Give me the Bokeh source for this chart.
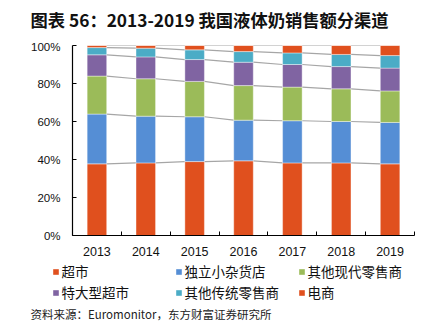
from bokeh.plotting import figure
from bokeh.layouts import column, row
from bokeh.models import (ColumnDataSource, Range1d, FixedTicker, PrintfTickFormatter,
                          Legend, LegendItem, Spacer)
from bokeh.core.properties import value
from bokeh.embed import file_html
from bokeh.resources import INLINE

# ---------------- data ----------------
years = ["2013", "2014", "2015", "2016", "2017", "2018", "2019"]
supermarket = [37.7, 38.2, 38.9, 39.3, 38.2, 38.2, 37.7]      # 超市
independent = [26.2, 24.6, 23.6, 21.4, 22.2, 21.8, 21.8]      # 独立小杂货店
other_modern = [20.0, 19.7, 18.6, 18.2, 17.7, 17.2, 16.6]     # 其他现代零售商
hypermarket = [11.2, 11.5, 11.5, 12.3, 11.9, 11.7, 12.0]      # 特大型超市
other_trad = [3.8, 4.6, 5.1, 5.6, 6.1, 6.4, 6.6]              # 其他传统零售商
ecommerce = [1.1, 1.4, 2.3, 3.2, 3.9, 4.7, 5.3]               # 电商
series_names = ["超市", "独立小杂货店", "其他现代零售商", "特大型超市", "其他传统零售商", "电商"]
y_ticks = [0, 20, 40, 60, 80, 100]
title_text = "图表 56：2013-2019 我国液体奶销售额分渠道"
source_text = "资料来源：Euromonitor，东方财富证券研究所"

colors = ["#E0501E", "#558ED5", "#9BBB59", "#8064A2", "#4BACC6", "#E0501E"]
keys = ["s0", "s1", "s2", "s3", "s4", "s5"]
series = [supermarket, independent, other_modern, hypermarket, other_trad, ecommerce]

W = 432
HEAD_H = 39
RULE_H = 1
CHART_H = 222
LEG_H = 42
SRC_H = 333 - HEAD_H - RULE_H - CHART_H - LEG_H - RULE_H


def bare(width, height, fill="white"):
    f = figure(width=width, height=height, output_backend="svg", toolbar_location=None,
               x_range=Range1d(0, width), y_range=Range1d(0, height),
               x_axis_type=None, y_axis_type=None, min_border=0, title=None,
               frame_align=False)
    f.outline_line_color = None
    f.background_fill_color = fill
    f.border_fill_color = fill
    f.xgrid.visible = False
    f.ygrid.visible = False
    return f


def rule(color):
    """A thin full-colour strip from x=20 to x=419."""
    return row(Spacer(width=20, height=RULE_H), bare(399, RULE_H, color),
               Spacer(width=13, height=RULE_H), spacing=0)


# ---------------- header ----------------
head = bare(W, HEAD_H)
head.text(x=[30], y=[HEAD_H - 18.5], text=[title_text], text_font=value("Noto Sans CJK SC"),
          text_font_style="bold", text_font_size="17.3px", text_baseline="middle",
          text_color="#111111")

# ---------------- chart ----------------
xpos = [i + 0.5 for i in range(len(years))]
data = {"x": xpos}
for k, s in zip(keys, series):
    data[k] = s
source = ColumnDataSource(data)

p = figure(width=W, height=CHART_H, output_backend="svg", toolbar_location=None,
           x_range=Range1d(0, len(years)), y_range=Range1d(0, 100),
           min_border_left=72, min_border_right=18, min_border_top=5,
           min_border_bottom=27, title=None, frame_align=False)
p.outline_line_color = None
p.xgrid.visible = False
p.ygrid.visible = False

BW = 0.4
cum = [0.0] * len(years)
for s in series:
    cum = [c + v for c, v in zip(cum, s)]
    p.segment(x0=[x + BW / 2 for x in xpos[:-1]], y0=cum[:-1],
              x1=[x - BW / 2 for x in xpos[1:]], y1=cum[1:],
              line_color="#A6A6A6", line_width=1.2)

p.vbar_stack(keys, x="x", width=BW, source=source, fill_color=colors,
             line_color="white", line_alpha=0.5, line_width=0.8)

xa = p.xaxis[0]
xa.ticker = FixedTicker(ticks=xpos, minor_ticks=list(range(len(years) + 1)))
xa.major_label_overrides = {x: y for x, y in zip(xpos, years)}
xa.major_tick_in = 0
xa.major_tick_out = 0
xa.minor_tick_in = 4
xa.minor_tick_out = 0
xa.minor_tick_line_color = "black"
xa.axis_line_color = "black"
xa.axis_line_width = 1.2
xa.major_label_standoff = 11
xa.major_label_text_font = "Liberation Sans"
xa.major_label_text_font_size = "12.5px"
xa.major_label_text_color = "#111111"

ya = p.yaxis[0]
ya.ticker = FixedTicker(ticks=y_ticks, minor_ticks=[])
ya.formatter = PrintfTickFormatter(format="%d%%")
ya.major_tick_in = 4
ya.major_tick_out = 0
ya.minor_tick_in = 0
ya.minor_tick_out = 0
ya.axis_line_color = "black"
ya.axis_line_width = 1.2
ya.major_label_standoff = 12
ya.major_label_text_font = "Liberation Sans"
ya.major_label_text_font_size = "11.5px"
ya.major_label_text_color = "#111111"

# ---------------- legend strip ----------------
leg = bare(W, LEG_H)
items = []
for name, c in zip(series_names, colors):
    r = leg.rect(x=[-50], y=[-50], width=1, height=1, fill_color=c, line_color=None)
    items.append(LegendItem(label=name, renderers=[r]))
lg = Legend(items=items, orientation="horizontal", ncols=3,
            location=(51.5, 1.5),
            glyph_width=7, glyph_height=7, label_standoff=3, label_width=113,
            label_height=21, spacing=0, padding=0, margin=0,
            border_line_color=None, background_fill_alpha=0,
            label_text_font="Noto Sans CJK SC", label_text_font_size="13.5px",
            label_text_color="#111111", label_text_baseline="middle")
leg.add_layout(lg, "center")

# ---------------- source strip ----------------
src = bare(W, SRC_H)
src.text(x=[30], y=[SRC_H - 8.8], text=[source_text], text_font=value("Noto Sans CJK SC"),
         text_font_size="11.5px", text_baseline="middle", text_color="#222222")

layout = column(head, rule("#3a3a3a"), p, leg, rule("#111111"), src, spacing=0)
open("out.html", "w").write(file_html(layout, INLINE))
